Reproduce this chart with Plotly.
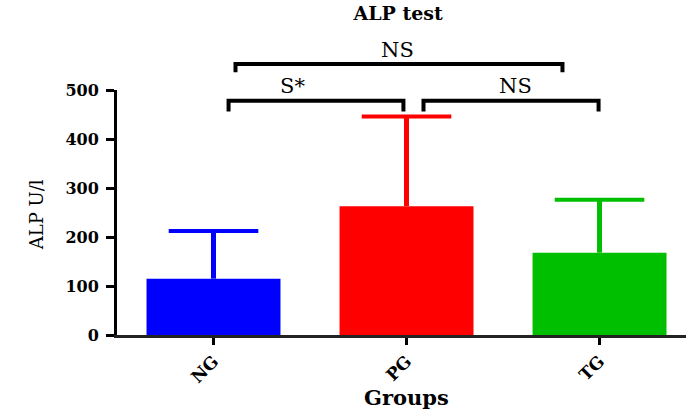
import plotly.graph_objects as go

# ---- data ----
groups = ["NG", "PG", "TG"]
means = [115, 263, 168]
upper_err = [97, 183, 108]
colors = ["#0000FF", "#FF0000", "#00BE00"]

# significance comparisons
comparisons = [("NG", "PG", "S*"), ("PG", "TG", "NS"), ("NG", "TG", "NS")]

y_max = 500
y_ticks = [0, 100, 200, 300, 400, 500]

SERIF = "DejaVu Serif"

fig = go.Figure()
for g, m, e, c in zip(groups, means, upper_err, colors):
    fig.add_trace(go.Bar(
        x=[g], y=[m], width=0.694,
        marker=dict(color=c, line=dict(width=0)),
        error_y=dict(type="data", array=[e], arrayminus=[0], symmetric=False,
                     color=c, thickness=5, width=0),
        showlegend=False,
    ))
    # cap at the top of the error bar
    fig.add_trace(go.Scatter(
        x=[g], y=[m + e], mode="markers",
        marker=dict(symbol="line-ew", size=64, color=c, line=dict(color=c, width=4)),
        showlegend=False, hoverinfo="skip",
    ))

idx = {g: i for i, g in enumerate(groups)}
bracket_specs = [
    # (x0, x1, y_bar, y_leg, label, label_x, label_y)
    (idx["NG"] + 0.078, idx["PG"] - 0.016, 478, 456, "S*", 0.41, 508),
    (idx["PG"] + 0.088, idx["TG"] - 0.005, 478, 456, "NS", 1.565, 508),
    (idx["NG"] + 0.114, idx["TG"] - 0.192, 553, 536, "NS", 0.953, 582),
]
for x0, x1, yb, yl, lab, lx, ly in bracket_specs:
    fig.add_shape(type="path", xref="x", yref="paper",
                  path=f"M {x0},{yl/y_max} L {x0},{yb/y_max} L {x1},{yb/y_max} L {x1},{yl/y_max}",
                  line=dict(color="black", width=4))
    fig.add_annotation(x=lx, y=ly / y_max, xref="x", yref="paper", text=lab,
                       showarrow=False, font=dict(family=SERIF, size=21, color="black"),
                       xanchor="center", yanchor="middle")

fig.add_annotation(text="ALP U/l", xref="paper", yref="paper", x=-0.162, y=0.49,
                   textangle=-90, showarrow=False,
                   font=dict(family=SERIF, size=18, color="black"))
fig.add_annotation(text="<b>Groups</b>", xref="paper", yref="paper", x=0.508, y=-0.255,
                   showarrow=False, yanchor="middle",
                   font=dict(family=SERIF, size=21, color="black"))

fig.update_layout(
    width=686, height=410,
    margin=dict(l=117, r=0, t=89.5, b=75, autoexpand=False),
    paper_bgcolor="white", plot_bgcolor="white",
    barmode="overlay",
    title=dict(text="<b>ALP test</b>", x=0.494, xref="paper", xanchor="center",
               y=1 - 13 / 410, yref="container", yanchor="middle",
               font=dict(family=SERIF, size=19, color="black")),
    xaxis=dict(type="category", categoryorder="array", categoryarray=groups,
               range=[-0.5, 2.448], showline=True, linecolor="#222", linewidth=2.5,
               ticks="outside", ticklen=7, tickwidth=3, tickcolor="black",
               tickangle=-45, showgrid=False, zeroline=False, automargin=False,
               tickfont=dict(family=SERIF, size=17, color="black", weight="bold")),
    yaxis=dict(range=[0, y_max], tickvals=y_ticks, showline=True, linecolor="black",
               linewidth=3, ticks="outside", ticklen=8, tickwidth=3, tickcolor="black",
               showgrid=False, zeroline=False, ticklabelstandoff=4, automargin=False,
               tickfont=dict(family=SERIF, size=16, color="black", weight="bold")),
)

fig.write_html("out.html", config={"displayModeBar": False},
               post_script="document.body.style.margin='0';document.body.style.overflow='hidden';")
